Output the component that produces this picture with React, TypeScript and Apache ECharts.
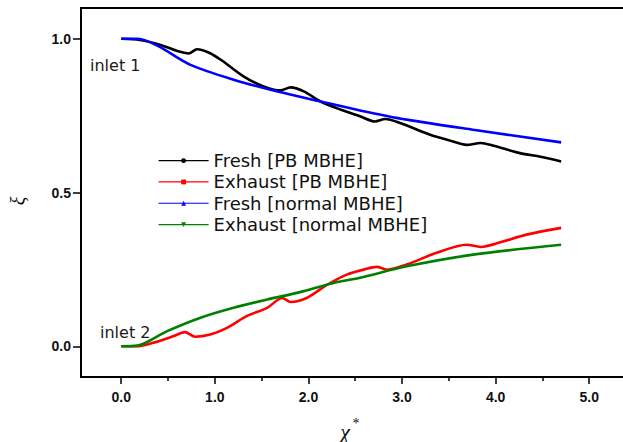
import React, { useEffect, useRef } from "react";
import * as echarts from "echarts";

// [x, ξ] pairs
const freshPB: [number, number][] = [
  [0, 1.0], [0.2, 0.996], [0.42, 0.98], [0.6, 0.96], [0.72, 0.952], [0.81, 0.966],
  [0.95, 0.953], [1.09, 0.926], [1.31, 0.877], [1.52, 0.845], [1.7, 0.832], [1.81, 0.842],
  [1.95, 0.829], [2.13, 0.796], [2.34, 0.77], [2.55, 0.748], [2.71, 0.731], [2.82, 0.739],
  [2.98, 0.726], [3.3, 0.688], [3.5, 0.67], [3.69, 0.655], [3.84, 0.661], [3.98, 0.652],
  [4.26, 0.628], [4.48, 0.616], [4.7, 0.601],
];
const exhaustPB: [number, number][] = [
  [0, 0], [0.17, 0], [0.34, 0.011], [0.56, 0.033], [0.68, 0.046], [0.79, 0.031],
  [0.95, 0.038], [1.13, 0.06], [1.34, 0.098], [1.56, 0.125], [1.72, 0.157], [1.81, 0.144],
  [1.98, 0.157], [2.2, 0.2], [2.41, 0.233], [2.6, 0.25], [2.73, 0.258], [2.84, 0.249],
  [3.05, 0.266], [3.37, 0.304], [3.69, 0.33], [3.84, 0.323], [4.05, 0.338], [4.33, 0.363],
  [4.7, 0.385],
];
const freshNormal: [number, number][] = [
  [0, 1.0], [0.18, 1.0], [0.4, 0.975], [0.74, 0.915], [1.2, 0.867], [1.66, 0.829],
  [2.13, 0.796], [2.55, 0.767], [3.05, 0.737], [3.76, 0.704], [4.7, 0.663],
];
const exhaustNormal: [number, number][] = [
  [0, 0], [0.17, 0.002], [0.49, 0.049], [0.84, 0.092], [1.2, 0.125], [1.56, 0.152],
  [1.91, 0.176], [2.27, 0.206], [2.54, 0.222], [3.05, 0.26], [3.76, 0.298], [4.7, 0.33],
];

const seriesNames = [
  "Fresh [PB MBHE]",
  "Exhaust [PB MBHE]",
  "Fresh [normal MBHE]",
  "Exhaust [normal MBHE]",
];
const xMajorTicks = [0, 1, 2, 3, 4, 5];
const xMinorTicks = [0.5, 1.5, 2.5, 3.5, 4.5];
const yTicks = [0, 0.5, 1.0];

export default function App() {
  const ref = useRef<HTMLDivElement>(null);
  useEffect(() => {
    const chart = echarts.init(ref.current!, null, { renderer: "svg" });
    const X_MIN = -0.43;
    const X_MAX = 5.4;
    const axisFont = {
      fontFamily: "Liberation Sans",
      fontWeight: "bold" as const,
      fontSize: 14,
      color: "#111",
    };
    const mk = (
      name: string,
      data: [number, number][],
      color: string,
      symbol: string
    ) => ({
      name,
      type: "line",
      data,
      smooth: 0.3,
      symbol,
      symbolSize: 5,
      showSymbol: false,
      lineStyle: { color, width: 2.6 },
      itemStyle: { color },
      z: 3,
    });
    chart.setOption({
      animation: false,
      backgroundColor: "#fff",
      grid: {
        left: 81,
        top: 8,
        right: 650 - (81 + 93.6 * (X_MAX - X_MIN)),
        bottom: 65,
        show: true,
        borderColor: "#000",
        borderWidth: 2,
      },
      xAxis: [
        {
          type: "value",
          min: X_MIN,
          max: X_MAX,
          axisLine: { show: true, onZero: false, lineStyle: { color: "#000", width: 2 } },
          axisTick: { show: true, length: 7, customValues: xMajorTicks, lineStyle: { color: "#000", width: 1.5 } },
          axisLabel: { ...axisFont, margin: 13, customValues: xMajorTicks, formatter: (v: number) => v.toFixed(1) },
          splitLine: { show: false },
        },
        {
          type: "value",
          min: X_MIN,
          max: X_MAX,
          position: "bottom",
          axisLine: { show: false, onZero: false },
          axisTick: { show: true, length: 4, customValues: xMinorTicks, lineStyle: { color: "#000", width: 1.5 } },
          axisLabel: { show: false },
          splitLine: { show: false },
        },
      ],
      yAxis: {
        type: "value",
        min: -0.1,
        max: 1.1,
        axisLine: { show: true, onZero: false, lineStyle: { color: "#000", width: 2 } },
        axisTick: { show: true, length: 8, customValues: yTicks, lineStyle: { color: "#000", width: 1.5 } },
        axisLabel: { ...axisFont, margin: 10, customValues: yTicks, formatter: (v: number) => v.toFixed(1) },
        splitLine: { show: false },
      },
      legend: {
        orient: "vertical",
        left: 158,
        top: 150,
        padding: 0,
        itemWidth: 50,
        itemHeight: 6,
        itemGap: 0,
        lineStyle: { width: 1.2 },
        textStyle: {
          fontFamily: "DejaVu Sans",
          fontSize: 18,
          color: "#111",
          lineHeight: 21.3,
        },
        data: seriesNames,
      },
      series: [
        mk(seriesNames[0], freshPB, "#000000", "circle"),
        mk(seriesNames[1], exhaustPB, "#ff0000", "rect"),
        mk(seriesNames[2], freshNormal, "#0000ff", "triangle"),
        mk(seriesNames[3], exhaustNormal, "#008000", "path://M0,0 L10,0 L5,10 Z"),
      ],
      graphic: [
        {
          type: "text",
          x: 90,
          y: 65,
          style: { text: "inlet 1", font: '16px "DejaVu Sans"', fill: "#1a1a1a", verticalAlign: "middle" },
        },
        {
          type: "text",
          x: 100,
          y: 332,
          style: { text: "inlet 2", font: '16px "DejaVu Sans"', fill: "#1a1a1a", verticalAlign: "middle" },
        },
        {
          type: "text",
          x: 18,
          y: 201,
          rotation: Math.PI / 2,
          style: { text: "ξ", font: 'italic 20px "Liberation Serif"', fill: "#111", align: "center", verticalAlign: "middle" },
        },
        {
          type: "text",
          x: 345,
          y: 431,
          style: { text: "χ", font: 'italic 22px "Liberation Serif"', fill: "#111", align: "center", verticalAlign: "middle" },
        },
        {
          type: "text",
          x: 356,
          y: 423,
          style: { text: "*", font: '14px "Liberation Serif"', fill: "#111", align: "center", verticalAlign: "middle" },
        },
      ],
    });
    return () => chart.dispose();
  }, []);
  return (
    <div
      style={{
        position: "absolute",
        left: 0,
        top: 0,
        width: 623,
        height: 442,
        overflow: "hidden",
        background: "#fff",
      }}
    >
      <div ref={ref} style={{ width: 650, height: 442 }} />
    </div>
  );
}
